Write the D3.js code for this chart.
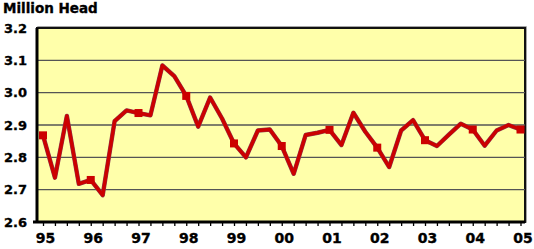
<!DOCTYPE html>
<html lang="en">
<head>
<meta charset="UTF-8">
<title>Million Head</title>
<style>
body { margin: 0; background: #fff; }
text { font-family: "DejaVu Sans", sans-serif; font-weight: bold; stroke: #000; stroke-width: 0.35px; }
</style>
</head>
<body>
<script src="https://d3js.org/d3.v7.min.js"></script>
<script>
// quarterly values, 1995 Q1 .. 2005 Q1
var values = [2.868, 2.737, 2.928, 2.718,
    2.730, 2.683, 2.912, 2.945,
    2.937, 2.930, 3.084, 3.051,
    2.990, 2.895, 2.985, 2.920,
    2.843, 2.800, 2.883, 2.886,
    2.835, 2.749, 2.869, 2.876,
    2.885, 2.838, 2.938, 2.879,
    2.830, 2.770, 2.883, 2.915,
    2.853, 2.835, 2.870, 2.904,
    2.886, 2.836, 2.883, 2.900,
    2.886];
var yearLabels = ['95', '96', '97', '98', '99', '00', '01', '02', '03', '04', '05'];
var yTicks = [2.6, 2.7, 2.8, 2.9, 3.0, 3.1, 3.2];

var margin = {top: 28, right: 9, bottom: 27, left: 37};
var width = 534 - margin.left - margin.right;
var height = 249 - margin.top - margin.bottom;

var svg = d3.select('body').append('svg')
    .attr('width', 534)
    .attr('height', 249);

var g = svg.append('g')
    .attr('transform', `translate(${margin.left}, ${margin.top})`);

var xScale = d3.scaleLinear().domain([0, values.length - 1]).range([6, width - 4.5]);
var yScale = d3.scaleLinear().domain([2.6, 3.2]).range([height, 0]);

// plot background + frame shadow
g.append('rect')
    .attr('x', 1).attr('y', -1)
    .attr('width', width).attr('height', height + 1)
    .style('fill', 'none')
    .style('stroke', '#888')
    .style('stroke-width', 1.5);

g.append('rect')
    .attr('width', width).attr('height', height)
    .style('fill', '#ffffaa')
    .style('stroke', '#111')
    .style('stroke-width', 2);

// grid lines
g.append('g')
    .selectAll('line')
    .data(yTicks.slice(1, -1))
    .enter().append('line')
    .attr('x1', 0).attr('x2', width)
    .attr('y1', d => yScale(d)).attr('y2', d => yScale(d))
    .style('stroke', '#555')
    .style('stroke-width', 1.3);

// y axis labels
var yAxis = g.append('g')
    .call(d3.axisLeft(yScale).tickValues(yTicks).tickSize(0).tickPadding(10).tickFormat(d3.format('.1f')));
yAxis.select('.domain').remove();
yAxis.selectAll('text')
    .style('font-size', '13px')
    .style('fill', '#000');

// x axis, one tick per quarter
var xAxis = g.append('g')
    .attr('transform', `translate(0, ${height})`)
    .call(d3.axisBottom(xScale)
        .tickValues(d3.range(values.length))
        .tickSize(4)
        .tickPadding(7)
        .tickFormat(i => i % 4 === 0 ? yearLabels[i / 4] : ''));
xAxis.select('.domain').remove();
xAxis.selectAll('line').style('stroke', '#000').style('stroke-width', 1.3);
xAxis.selectAll('text')
    .attr('dx', 2)
    .style('font-size', '14px')
    .style('fill', '#000');

// heavy left and bottom axis lines
g.append('line')
    .attr('x1', 0).attr('x2', 0).attr('y1', 0).attr('y2', height)
    .style('stroke', '#000').style('stroke-width', 3);
g.append('line')
    .attr('x1', -4).attr('x2', width).attr('y1', height).attr('y2', height)
    .style('stroke', '#000').style('stroke-width', 3);

// series line
var line = d3.line()
    .x((d, i) => xScale(i))
    .y(d => yScale(d));

g.append('path')
    .datum(values)
    .attr('d', line)
    .style('fill', 'none')
    .style('stroke', '#8a3a50')
    .style('stroke-width', 4.4)
    .style('stroke-linejoin', 'round');

g.append('path')
    .datum(values)
    .attr('d', line)
    .style('fill', 'none')
    .style('stroke', '#cc0000')
    .style('stroke-width', 3.4)
    .style('stroke-linejoin', 'round');

// yearly markers
var mk = 8;
g.selectAll('.marker')
    .data(values.map((v, i) => ({i: i, v: v})).filter(d => d.i % 4 === 0))
    .enter().append('rect')
    .attr('class', 'marker')
    .attr('x', d => xScale(d.i) - mk / 2)
    .attr('y', d => yScale(d.v) - mk / 2)
    .attr('width', mk)
    .attr('height', mk)
    .style('fill', '#cc0000');

// unit label
svg.append('text')
    .text('Million Head')
    .attr('x', 3)
    .attr('y', 13)
    .style('font-size', '13.5px')
    .style('fill', '#000');
</script>
</body>
</html>
